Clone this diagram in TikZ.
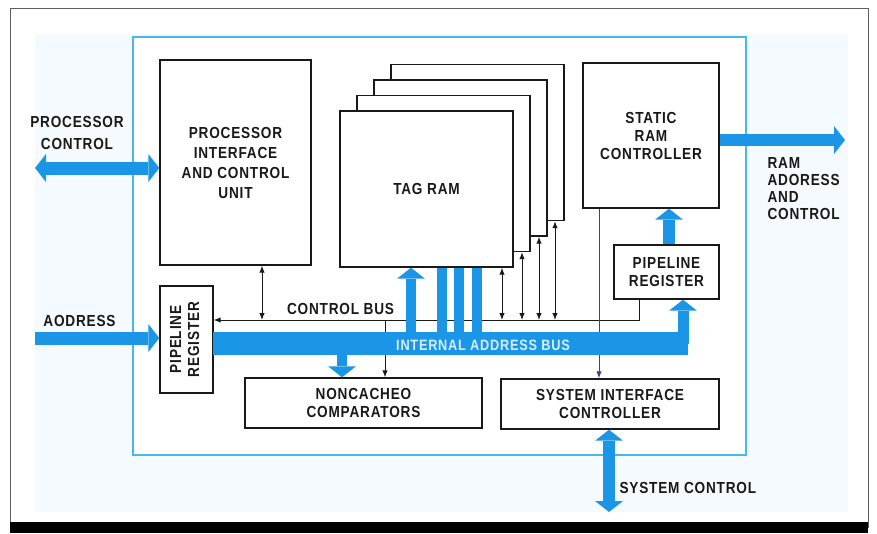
\documentclass[tikz,border=0pt]{standalone}
\usepackage{fontspec}
\usepackage{graphicx}
\newfontfamily\diagfont{Liberation Sans}[FakeStretch=0.85, LetterSpace=5]
\usetikzlibrary{arrows.meta, positioning}
\definecolor{BL}{RGB}{27,150,230}
\definecolor{CY}{RGB}{70,185,232}
\definecolor{PB}{RGB}{244,250,253}
\definecolor{DK}{RGB}{25,25,25}
\definecolor{VL}{RGB}{70,60,130}
\definecolor{BT}{RGB}{215,238,255}

\begin{document}
\begin{tikzpicture}[x=1pt, y=-1pt,
  block/.style={draw=DK, line width=1.4pt, fill=white, inner sep=0pt,
                align=center, text=DK,
                font=\diagfont\bfseries\fontsize{16}{18}\selectfont},
  lbl/.style={text=DK, align=#1,
              font=\diagfont\bfseries\fontsize{16}{18}\selectfont},
  lbl/.default=center,
  fat/.style={draw=BL, line width=#1},
  fat/.default=12pt,
  sig/.style={draw=DK, line width=1pt},
  fathead/.tip={Triangle[width=28pt, length=11pt, line width=0pt]},
  thinhead/.tip={Latex[length=7pt, width=5.5pt]}
]
\useasboundingbox (0,0) rectangle (877,533);

% Page and chip outline
\fill[PB] (35,34) rectangle (848,512);
\draw[DK!70, line width=0.8pt] (10,8) rectangle (868,527);
\fill[black] (10,522) rectangle (868,533);
\draw[CY, line width=1.5pt, fill=white] (133,37) rectangle (746,455);

% Tag RAM stack
\foreach \i in {3,2,1}
  \node[block, minimum width=173pt, minimum height=156pt] (tag\i)
    at (426.5+17*\i, 189-15.5*\i) {};
\node[block, minimum width=173pt, minimum height=156pt] (tag) at (426.5,189) {TAG RAM};

% Blocks
\node[block, minimum width=151pt, minimum height=205pt] (piu) at (235.5,162.5)
  {PROCESSOR\\[2pt]INTERFACE\\[2pt]AND CONTROL\\[2pt]UNIT};
\node[block, minimum width=136pt, minimum height=145pt] (src) at (651,135.5)
  {STATIC\\RAM\\CONTROLLER};
\node[block, minimum width=105pt, minimum height=54pt] (prreg) at (666.5,272)
  {PIPELINE\\REGISTER};
\node[block, minimum width=53pt, minimum height=107pt] (plreg) at (186.5,339.5)
  {\rotatebox{90}{\begin{tabular}{@{}c@{}}PIPELINE\\REGISTER\end{tabular}}};
\node[block, minimum width=237pt, minimum height=50pt] (ncc) at (363.5,403)
  {NONCACHEO\\COMPARATORS};
\node[block, minimum width=218pt, minimum height=50pt] (sic) at (610,404)
  {SYSTEM INTERFACE\\CONTROLLER};

% Tap points
\coordinate (cb) at (639,320);
\foreach \n/\x in {cp/262, cn/385, c0/502, c1/522, c2/539, c3/555}
  \coordinate (\n) at (\x,320);
\foreach \n/\x in {bt/411, b1/442, b2/459, b3/477, bn/342, bp/683, rp/669, sv/599}
  \coordinate (\n) at (\x,0);
\coordinate (pc) at (35,168);
\coordinate (ad) at (35,338);
\coordinate (ra) at (845,140);
\coordinate (sc) at (609,512);

% Control bus
\draw[sig, -thinhead] (prreg.south -| cb) -- (cb) -- (plreg.east |- cb);
\draw[sig, thinhead-thinhead] (piu.south -| cp) -- (cp);
\draw[sig, -thinhead] (cn) -- (ncc.north -| cn);
\draw[sig, thinhead-thinhead] (tag.south -| c0) -- (c0);
\draw[sig, thinhead-thinhead] (tag1.south -| c1) -- (c1);
\draw[sig, thinhead-thinhead] (tag2.south -| c2) -- (c2);
\draw[sig, thinhead-thinhead] (tag3.south -| c3) -- (c3);
\draw[sig, draw=VL, -thinhead] (src.south -| sv) -- (sic.north -| sv);

% Internal address bus
\node[fill=BL, inner sep=0pt, minimum width=475pt, minimum height=23pt] (bus)
  at (450.5,343.5) {};
\draw[fat=11pt, -fathead] (bus.center -| bp) -- (prreg.south -| bp);
\draw[fat=10pt, -fathead] (bus.north -| bt) -- (tag.south -| bt);
\foreach \b in {b1,b2,b3}
  \draw[fat=10pt] (bus.north -| \b) -- (tag.south -| \b);
\draw[fat=10pt, -fathead] (bus.south -| bn) -- (ncc.north -| bn);
\node[text=BT, font=\diagfont\bfseries\fontsize{15}{17}\selectfont] (buslbl)
  at (483,345) {INTERNAL ADDRESS BUS};

% External buses
\draw[fat=13pt, fathead-fathead] (pc) -- (piu.west |- pc);
\draw[fat=13pt, -fathead] (ad) -- (plreg.west |- ad);
\draw[fat, -fathead] (src.east |- ra) -- (ra);
\draw[fat, -fathead] (prreg.north -| rp) -- (src.south -| rp);
\draw[fat, fathead-fathead] (sic.south -| sc) -- (sc);

% Labels
\node[lbl] (pclbl) at (77,133) {PROCESSOR\\[4pt]CONTROL};
\node[lbl] (adlbl) at (79.5,321) {AODRESS};
\node[lbl] (cblbl) at (340.5,309) {CONTROL BUS};
\node[lbl=left, anchor=west,
      font=\diagfont\bfseries\fontsize{16}{17}\selectfont] (ralbl)
  at (764,188.5) {RAM\\ADORESS\\AND\\CONTROL};
\node[lbl, anchor=west] (sclbl) at (616,488) {SYSTEM CONTROL};
\end{tikzpicture}
\end{document}
